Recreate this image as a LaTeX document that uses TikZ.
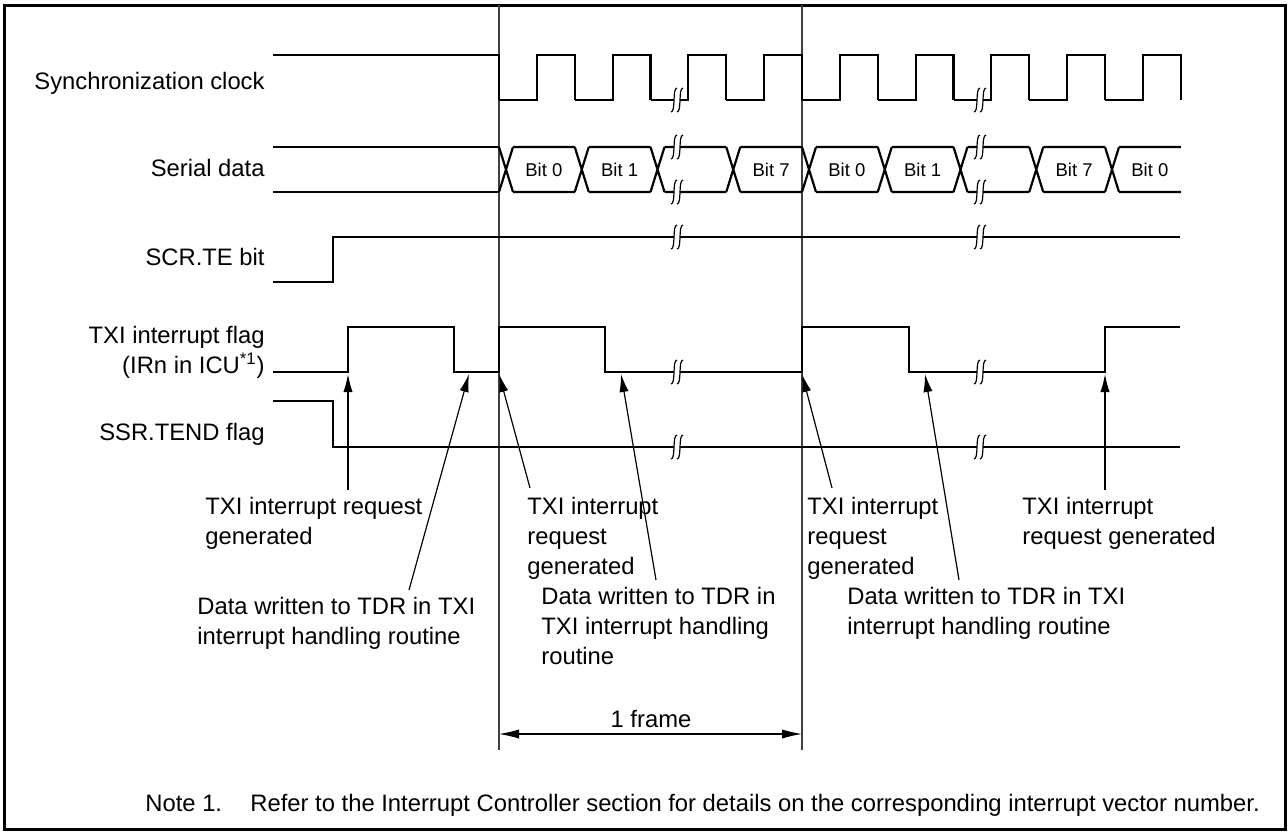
\documentclass[tikz,border=0pt]{standalone}
\usepackage{fontspec}
\setmainfont{Liberation Sans}
\usetikzlibrary{arrows.meta}

\begin{document}
\begin{tikzpicture}[x=0.5pt,y=-0.5pt,
  every node/.style={font=\fontsize{11.9}{15}\selectfont,inner sep=0pt},
  wave/.style={line width=1.1pt},
  guide/.style={line width=0.6pt,black!75},
  ptr/.style={line width=0.6pt,-{Latex[length=9pt,width=4.6pt]}},
  dim/.style={line width=0.6pt,{Latex[length=10pt,width=4.6pt]}-{Latex[length=10pt,width=4.6pt]}},
  bitlbl/.style={font=\fontsize{9.25}{11}\selectfont},
  sig/.style={anchor=base east,align=right},
  txt/.style={anchor=north west,align=left}]
  \def\hp{37.875}
  \useasboundingbox (0,0) rectangle (1288,832);
  % outer frame
  \draw[line width=1.5pt] (4,5) rectangle (1285,829);
  % frame guides
  \draw[guide] (499,5) -- (499,750) (802,5) -- (802,750);
  % signal names
  \node[sig] (clk) at (265,89) {Synchronization clock};
  \node[sig] (sd) at (265,176) {Serial data};
  \node[sig] (te) at (265,265) {SCR.TE bit};
  \node[anchor=north east,align=right] (txi) at (265,326) {TXI interrupt flag\\(IRn in ICU\textsuperscript{*1})};
  \node[sig] (tend) at (265,440) {SSR.TEND flag};
  % synchronization clock
  \draw[wave] (273,55) -- (499,55) -- (499,100);
  \foreach \k in {0,...,8}
    \draw[wave] ({499+2*\k*\hp},100) -- ++(\hp,0) -- ++(0,-45) -- ++(\hp,0) -- ++(0,45);
  % serial data
  \draw[wave] (273,147) -- (499,147) (273,192) -- (499,192);
  \foreach \k in {0,...,8}
    \draw[wave] ({499+2*\k*\hp},147) -- ++(14,45) ({499+2*\k*\hp},192) -- ++(14,-45)
      ({499+2*\k*\hp+14},147) -- ({499+2*(\k+1)*\hp},147)
      ({499+2*\k*\hp+14},192) -- ({499+2*(\k+1)*\hp},192);
  \foreach \k/\t in {0/Bit 0,1/Bit 1,3/Bit 7,4/Bit 0,5/Bit 1,7/Bit 7,8/Bit 0}
    \node[bitlbl] (bit\k) at ({499+2*\k*\hp+7+\hp},169.5) {\t};
  % SCR.TE, TXI flag, SSR.TEND
  \draw[wave] (273,282) -- (333,282) -- (333,237) -- (1180,237);
  \draw[wave] (273,372) -- (348,372) -- (348,327) -- (454,327) -- (454,372) -- (499,372)
    -- (499,327) -- (605,327) -- (605,372) -- (802,372) -- (802,327) -- (909,327)
    -- (909,372) -- (1105,372) -- (1105,327) -- (1180,327);
  \draw[wave] (273,401) -- (333,401) -- (333,447) -- (1180,447);
  % break marks
  \foreach \bx in {674,977}
    \foreach \by in {100,147,192,237,372,447} {
      \fill[white] (\bx-3,\by+12) .. controls (\bx+2,\by+12) and (\bx-2,\by-12) .. (\bx+3,\by-12)
        -- (\bx+9,\by-12) .. controls (\bx+4,\by-12) and (\bx+8,\by+12) .. (\bx+3,\by+12) -- cycle;
      \draw[line width=0.6pt] (\bx-3,\by+12) .. controls (\bx+2,\by+12) and (\bx-2,\by-12) .. (\bx+3,\by-12)
        (\bx+3,\by+12) .. controls (\bx+8,\by+12) and (\bx+4,\by-12) .. (\bx+9,\by-12);
    }
  % event labels
  \node[txt] (reqA) at (205,497) {TXI interrupt request\\generated};
  \node[txt] (datA) at (197,597) {Data written to TDR in TXI\\interrupt handling routine};
  \node[txt] (reqB) at (527,497) {TXI interrupt\\request\\generated};
  \node[txt] (datB) at (541,587) {Data written to TDR in\\TXI interrupt handling\\routine};
  \node[txt] (reqC) at (807,497) {TXI interrupt\\request\\generated};
  \node[txt] (datC) at (847,587) {Data written to TDR in TXI\\interrupt handling routine};
  \node[txt] (reqD) at (1022,497) {TXI interrupt\\request generated};
  % pointers
  \coordinate (tA) at (348,374);  \coordinate (sA) at (348,490);
  \coordinate (tB) at (469,374);  \coordinate (sB) at (409,590);
  \coordinate (tC) at (499,374);  \coordinate (sC) at (530,488);
  \coordinate (tD) at (621,374);  \coordinate (sD) at (656,580);
  \coordinate (tE) at (802,374);  \coordinate (sE) at (832,488);
  \coordinate (tF) at (925,374);  \coordinate (sF) at (959,580);
  \coordinate (tG) at (1105,374); \coordinate (sG) at (1105,490);
  \foreach \p in {A,B,C,D,E,F,G}
    \draw[ptr] (s\p) -- (t\p);
  % one frame
  \coordinate (fL) at (499,734);
  \coordinate (fR) at (802,734);
  \draw[dim] (fL) -- (fR);
  \node (frm) at (651,719) {1 frame};
  % note
  \node[anchor=base west] (nt) at (145,811) {Note 1.};
  \node[anchor=base west] (ntx) at (250,811) {Refer to the Interrupt Controller section for details on the corresponding interrupt vector number.};
\end{tikzpicture}
\end{document}
